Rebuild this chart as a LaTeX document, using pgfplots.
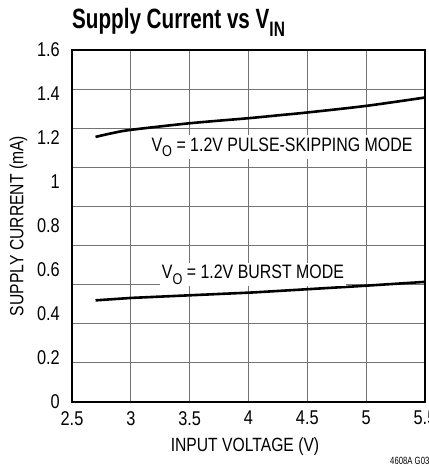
\documentclass[border=0pt]{standalone}
\usepackage{fontspec}
\setmainfont{Liberation Sans}[FakeStretch=0.82]
\newfontfamily\titlefont{Liberation Sans}[FakeStretch=0.74]
\usepackage{pgfplots}
\pgfplotsset{compat=1.18}
\begin{document}
\begin{tikzpicture}
\begin{axis}[
  at={(72bp,73bp)}, anchor=south west,
  scale only axis, width=353bp, height=352bp,
  xmin=2.5, xmax=5.5, ymin=0, ymax=1.6,
  xtick={2.5,3,3.5,4,4.5,5,5.5},
  xticklabels={2.5,3,3.5,4,4.5,5,5.5},
  ytick={0,0.177778,0.355556,0.533333,0.711111,0.888889,1.066667,1.244444,1.422222,1.6},
  yticklabels={},
  extra y ticks={0,0.2,0.4,0.6,0.8,1,1.2,1.4,1.6},
  extra y tick labels={0,0.2,0.4,0.6,0.8,1,1.2,1.4,1.6},
  extra y tick style={grid=none, major tick length=0pt},
  xmajorgrids, ymajorgrids,
  major tick length=0pt,
  grid style={black!55, line width=0.9bp},
  axis line style={line width=1.6bp},
  tick label style={font=\fontsize{20}{20}\selectfont},
  yticklabel style={inner sep=0pt, xshift=-12bp},
  xticklabel style={inner sep=0pt, yshift=-9bp},
  xlabel={INPUT VOLTAGE (V)},
  xlabel style={font=\fontsize{19.2}{19.2}\selectfont, at={(axis description cs:0.49,0)}, anchor=north, inner sep=0pt, yshift=-35bp},
  ylabel={SUPPLY CURRENT (mA)},
  ylabel style={font=\fontsize{19.2}{19.2}\selectfont, at={(axis description cs:-0.152,0.5)}, anchor=center},
]
\addplot[black, line width=2.6bp, smooth] coordinates {
  (2.70,1.205) (2.85,1.223) (3.00,1.237) (3.50,1.267) (4.00,1.290)
  (4.27,1.304) (4.50,1.316) (5.00,1.346) (5.50,1.384)
};
\addplot[black, line width=2.6bp] coordinates {
  (2.70,0.462) (3.00,0.473) (3.50,0.485) (4.04,0.498) (4.92,0.526) (5.50,0.546)
};
\node[fill=white, inner sep=2bp, font=\fontsize{19.5}{19.5}\selectfont] at (axis cs:4.285,1.158)
  {V\raisebox{-0.3em}{\fontsize{15.5}{15.5}\selectfont O} = 1.2V PULSE-SKIPPING MODE};
\node[fill=white, inner sep=2bp, font=\fontsize{19.5}{19.5}\selectfont] at (axis cs:4.038,0.579)
  {V\raisebox{-0.3em}{\fontsize{15.5}{15.5}\selectfont O} = 1.2V BURST MODE};
\end{axis}
\node[anchor=base west, inner sep=0pt] at (72bp,446bp)
  {\titlefont\bfseries\fontsize{28}{28}\selectfont Supply Current vs V\raisebox{-0.28em}{\fontsize{21}{21}\selectfont IN}};
\node[anchor=base west, inner sep=0pt] at (390bp,11bp)
  {\titlefont\fontsize{10.5}{10.5}\selectfont 4608A G03};
\pgfresetboundingbox
\useasboundingbox (0,0) rectangle (429bp,475bp);
\end{tikzpicture}
\end{document}
